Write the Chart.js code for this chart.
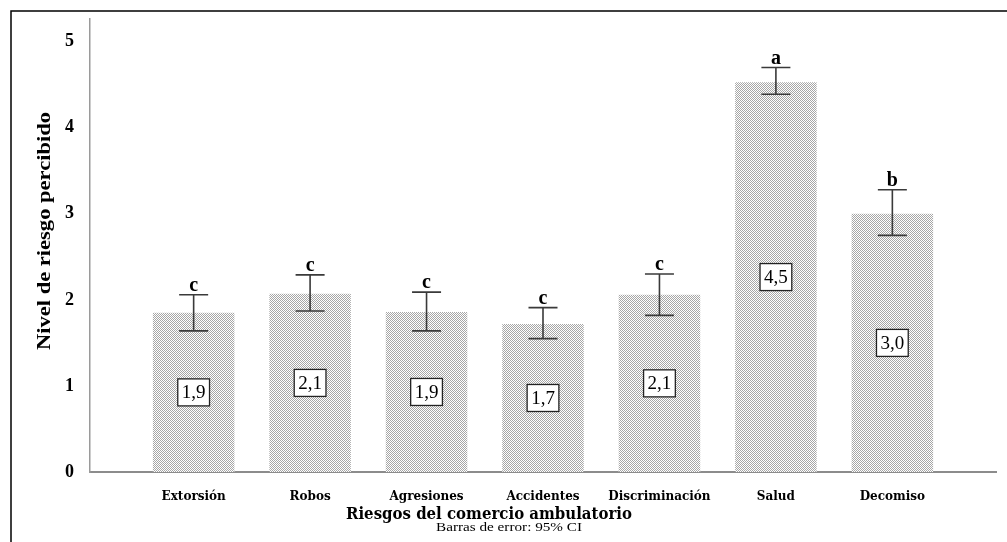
<!DOCTYPE html>
<html>
<head>
<meta charset="utf-8">
<script src="https://cdn.jsdelivr.net/npm/chart.js@4/dist/chart.umd.min.js"></script>
<style>
  html, body { margin: 0; padding: 0; background: #fff; }
  #wrap { width: 1007px; height: 542px; position: relative; }
</style>
</head>
<body>
<div id="wrap"><canvas id="riesgos-chart" width="1007" height="542"></canvas></div>
<script>
// datos
const categories = ['Extorsión', 'Robos', 'Agresiones', 'Accidentes', 'Discriminación', 'Salud', 'Decomiso'];
const means = [1.85, 2.07, 1.86, 1.72, 2.06, 4.53, 3.00];
const ciLow = [1.64, 1.87, 1.64, 1.55, 1.82, 4.39, 2.75];
const ciHigh = [2.06, 2.29, 2.09, 1.91, 2.30, 4.70, 3.28];
const groups = ['c', 'c', 'c', 'c', 'c', 'a', 'b'];
const valueLabels = ['1,9', '2,1', '1,9', '1,7', '2,1', '4,5', '3,0'];
const yTicks = [0, 1, 2, 3, 4, 5];

const serif = '"Liberation Serif", "Times New Roman", serif';
const wideSerif = '"DejaVu Serif", serif';

// trama punteada de las barras
function makeDots() {
    const c = document.createElement('canvas');
    c.width = 2; c.height = 2;
    const g = c.getContext('2d');
    g.fillStyle = '#ffffff';
    g.fillRect(0, 0, 2, 2);
    g.fillStyle = '#a6a6a6';
    g.fillRect(0, 0, 1, 1);
    g.fillRect(1, 1, 1, 1);
    return g.createPattern(c, 'repeat');
}

// texto estirado hasta un ancho dado (el original esta escalado)
function stretchedText(g, text, x, y, width) {
    const w = g.measureText(text).width;
    g.save();
    g.translate(x, y);
    g.scale(width / w, 1);
    g.fillText(text, 0, 0);
    g.restore();
}

const ctx = document.getElementById('riesgos-chart').getContext('2d');

const extrasPlugin = {
    id: 'extras',
    afterDatasetsDraw(chart) {
        const g = chart.ctx;
        const x = chart.scales.x, y = chart.scales.y;
        g.save();
        for (let i = 0; i < categories.length; i++) {
            const cx = x.getPixelForValue(i);
            const top = y.getPixelForValue(ciHigh[i]);
            const bot = y.getPixelForValue(ciLow[i]);
            // barra de error
            g.strokeStyle = '#3a3a3a';
            g.lineWidth = 1.6;
            g.beginPath();
            g.moveTo(cx, top); g.lineTo(cx, bot);
            g.moveTo(cx - 14.5, top); g.lineTo(cx + 14.5, top);
            g.moveTo(cx - 14.5, bot); g.lineTo(cx + 14.5, bot);
            g.stroke();
            // letra del grupo
            g.fillStyle = '#000';
            g.font = 'bold 20px ' + serif;
            g.textAlign = 'center';
            g.textBaseline = 'alphabetic';
            g.fillText(groups[i], cx, top - 4);
            // etiqueta del valor
            const my = y.getPixelForValue(means[i] / 2);
            g.font = '19px ' + serif;
            const w = g.measureText(valueLabels[i]).width + 8;
            const h = 27;
            g.fillStyle = '#fff';
            g.fillRect(cx - w / 2, my - h / 2, w, h);
            g.strokeStyle = '#222';
            g.lineWidth = 1.3;
            g.strokeRect(cx - w / 2, my - h / 2, w, h);
            g.fillStyle = '#000';
            g.textBaseline = 'middle';
            g.fillText(valueLabels[i], cx, my + 1);
        }
        g.restore();
    },
    afterDraw(chart) {
        const g = chart.ctx;
        g.save();
        // titulos
        g.fillStyle = '#000';
        g.textAlign = 'left';
        g.textBaseline = 'alphabetic';
        g.font = 'bold 17px ' + wideSerif;
        stretchedText(g, 'Riesgos del comercio ambulatorio', 346, 519, 286);
        g.font = '13px ' + serif;
        stretchedText(g, 'Barras de error: 95% CI', 436, 531, 146);
        g.translate(50, 350);
        g.rotate(-Math.PI / 2);
        g.font = 'bold 18px ' + serif;
        stretchedText(g, 'Nivel de riesgo percibido', 0, 0, 238);
        g.restore();
        // marco exterior
        g.save();
        g.strokeStyle = '#000';
        g.lineWidth = 1.5;
        g.strokeRect(11, 11, 1100, 700);
        g.restore();
    }
};

const config = {
    type: 'bar',
    data: {
        datasets: [{
            label: 'Nivel de riesgo',
            data: means.map((v, i) => ({ x: i, y: v })),
            backgroundColor: makeDots(),
            borderWidth: 0,
            barPercentage: 0.7,
            categoryPercentage: 1
        }]
    },
    options: {
        responsive: false,
        animation: false,
        layout: { padding: { left: 0, top: 17, right: 11, bottom: 0 } },
        plugins: {
            legend: { display: false },
            tooltip: { enabled: false },
            title: { display: false }
        },
        scales: {
            x: {
                type: 'linear',
                offset: false,
                min: -0.89,
                max: 6.89,
                grid: { display: false, offset: false },
                border: { display: true, color: '#8c8c8c', width: 2 },
                afterBuildTicks: (scale) => {
                    scale.ticks = categories.map((c, i) => ({ value: i }));
                },
                afterFit: (scale) => { scale.height = 70; },
                ticks: {
                    padding: 10,
                    autoSkip: false,
                    maxRotation: 0,
                    color: '#000',
                    font: { family: wideSerif, size: 12, weight: 'bold' },
                    callback: (v) => categories[v]
                }
            },
            y: {
                min: 0,
                max: 5.266,
                grid: { display: false },
                border: { display: true, color: '#9a9a9a', width: 1.5 },
                afterBuildTicks: (scale) => {
                    scale.ticks = yTicks.map(v => ({ value: v }));
                },
                afterFit: (scale) => { scale.width = 90; },
                ticks: {
                    padding: 8,
                    color: '#000',
                    font: { family: serif, size: 18, weight: 'bold' }
                }
            }
        }
    },
    plugins: [extrasPlugin]
};

const riesgosChart = new Chart(ctx, config);
</script>
</body>
</html>
